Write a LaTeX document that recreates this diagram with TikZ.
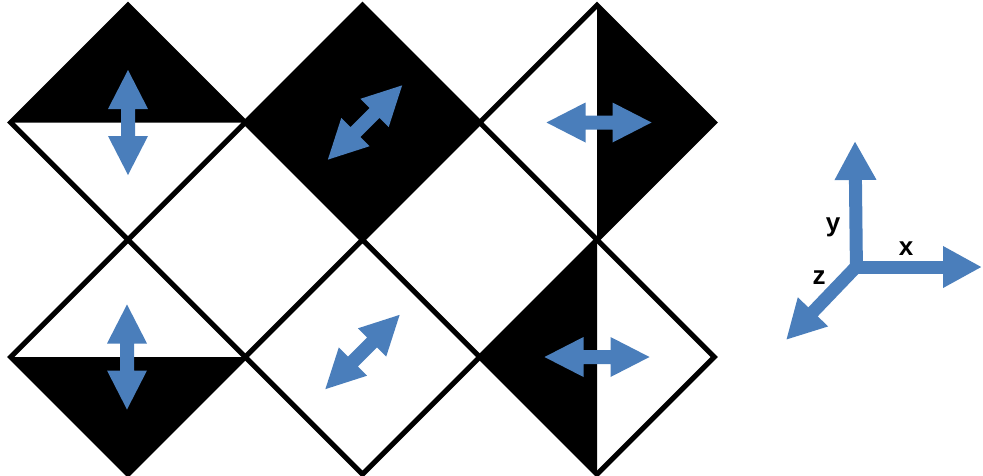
\documentclass[tikz,border=0pt]{standalone}
\usepackage{fontspec}
\setsansfont{Liberation Sans}
\usetikzlibrary{shapes.geometric,arrows.meta}
\providecommand{\Blue}{4A7EBB}
\newcommand{\Half}{117.25}
\newcommand{\Step}{234.5}
\newcommand{\Edge}{5pt}
\newcommand{\Shaft}{13pt}
\definecolor{arrowblue}{HTML}{\Blue}
\definecolor{ink}{HTML}{000000}

\tikzset{
  cell/.style={diamond, draw=ink, line width=\Edge, inner sep=0pt, outer sep=0pt,
               minimum width=2*\Half pt, minimum height=2*\Half pt},
  twoway/.pic={
    \fill[arrowblue] (-52.5,0) -- (-13.5,-20) -- (-13.5,-7) -- (13.5,-7) -- (13.5,-20)
      -- (52.5,0) -- (13.5,20) -- (13.5,7) -- (-13.5,7) -- (-13.5,20) -- cycle;
  },
  axis/.style={draw=arrowblue, line width=\Shaft, -{Triangle[length=39pt,width=39pt]}},
  axislabel/.style={font=\sffamily\bfseries\fontsize{26}{30}\selectfont, inner sep=0pt}
}

\begin{document}
\begin{tikzpicture}[x=1pt,y=-1pt]
  \useasboundingbox (0,0) rectangle (983,475);

  % ---- the six cells --------------------------------------------------------
  \foreach \i in {0,1,2} {
    \foreach \j in {0,1} {
      \node[cell] (c\i\j) at (128+\Step*\i, 122.5+\Step*\j) {};
    }
  }

  % ---- black parts ----------------------------------------------------------
  \fill[ink] (c00.west) -- (c00.north) -- (c00.east) -- cycle;
  \fill[ink] (c10.west) -- (c10.north) -- (c10.east) -- (c10.south) -- cycle;
  \fill[ink] (c20.north) -- (c20.east) -- (c20.south) -- cycle;
  \fill[ink] (c01.west) -- (c01.south) -- (c01.east) -- cycle;
  \fill[ink] (c21.north) -- (c21.west) -- (c21.south) -- cycle;

  % ---- two-way arrows -------------------------------------------------------
  \pic[rotate=90] at (c00) {twoway};
  \pic[rotate=45] at ([xshift=2.5pt]c10) {twoway};
  \pic at ([xshift=2pt]c20) {twoway};
  \pic[rotate=90] at ([xshift=-1pt]c01) {twoway};
  \pic[rotate=45] at ([yshift=5pt]c11) {twoway};
  \pic at (c21) {twoway};

  % ---- axes -----------------------------------------------------------------
  \coordinate (o) at (856,267);
  \coordinate (ytip) at (855,141);
  \coordinate (xtip) at (982,267);
  \coordinate (ztip) at (786,340);
  \draw[axis] (856.5,273.5) -- (ytip);
  \draw[axis] (850,267) -- (xtip);
  \draw[axis] (o) -- (ztip);
  \node[axislabel] (ylab) at (833,227) {y};
  \node[axislabel] (xlab) at (906,249) {x};
  \node[axislabel] (zlab) at (819,278) {z};

\end{tikzpicture}
\end{document}
